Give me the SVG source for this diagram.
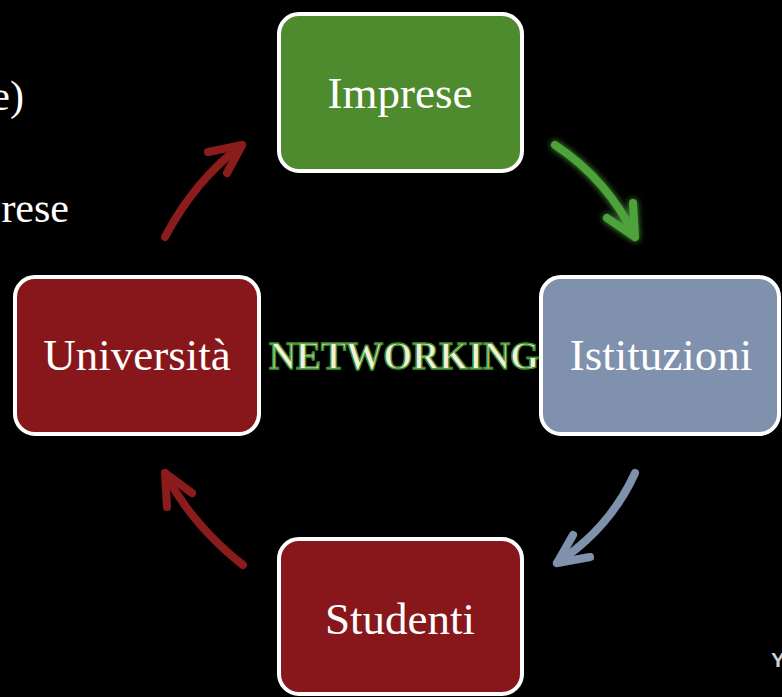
<svg xmlns="http://www.w3.org/2000/svg" width="782" height="697" viewBox="0 0 782 697">
<defs>
<style>
.box{stroke:#ffffff;stroke-width:4}
.lbl{font-family:"Liberation Serif","Times New Roman",serif;font-size:45px;fill:#ffffff;text-anchor:middle}
.side{font-family:"Liberation Serif","Times New Roman",serif;font-size:42px;fill:#ffffff;text-anchor:end}
.arr{fill:none;stroke-width:8;stroke-linecap:round;stroke-linejoin:round}
</style>
<filter id="glow" x="-30%" y="-30%" width="160%" height="160%">
<feGaussianBlur in="SourceAlpha" stdDeviation="3" result="b"/>
<feOffset dx="2" dy="3" in="b" result="o"/>
<feFlood flood-color="#000" flood-opacity="0.6"/>
<feComposite in2="o" operator="in" result="s"/>
<feMerge><feMergeNode in="s"/><feMergeNode in="SourceGraphic"/></feMerge>
</filter>
<filter id="gglow" x="-30%" y="-30%" width="160%" height="160%">
<feGaussianBlur in="SourceGraphic" stdDeviation="3" result="b"/>
<feMerge><feMergeNode in="b"/><feMergeNode in="SourceGraphic"/></feMerge>
</filter>
</defs>
<rect width="782" height="697" fill="#000000"/>
<text class="side" x="24" y="110">e)</text>
<text class="side" x="69" y="222">rese</text>
<g id="connectors">
<g filter="url(#gglow)" stroke="#4ea23a" class="arr">
<path d="M555,145 Q608,180 635,237"/>
<path d="M607,218 L635,237 L633,203"/>
</g>
<g stroke="#7f91ac" class="arr" filter="url(#glow)">
<path d="M635,473 Q610,528 557,563"/>
<path d="M573,535 L557,563 L590,557"/>
</g>
<g stroke="#8a1a1c" class="arr" filter="url(#glow)">
<path d="M243,565 Q192,525 165,473"/>
<path d="M167,507 L165,473 L192,493"/>
</g>
<g stroke="#8a1a1c" class="arr" filter="url(#glow)">
<path d="M165,237 Q195,180 242,145"/>
<path d="M208,152 L242,145 L227,173"/>
</g>
</g>
<g id="imprese">
<rect class="box" x="279" y="14" width="243" height="157" rx="20" fill="#4e8a2e"/>
<text class="lbl" x="400" y="108">Imprese</text>
</g>
<g id="istituzioni">
<rect class="box" x="541" y="277" width="238" height="157" rx="20" fill="#7f91ac"/>
<text class="lbl" x="661" y="370">Istituzioni</text>
</g>
<g id="universita">
<rect class="box" x="15" y="277" width="244" height="157" rx="20" fill="#87171a"/>
<text class="lbl" x="137" y="370">Università</text>
</g>
<g id="studenti">
<rect class="box" x="279" y="539" width="243" height="155" rx="20" fill="#87171a"/>
<text class="lbl" x="400" y="634">Studenti</text>
</g>
<g id="networking">
<text x="269" y="369" font-family="Liberation Serif,serif" font-weight="bold" font-size="40" textLength="270" lengthAdjust="spacingAndGlyphs" fill="#f3f0dc" stroke="#3f8f2c" stroke-width="1.5">NETWORKING</text>
</g>
<text x="771" y="667" font-family="Liberation Sans,Arial,sans-serif" font-weight="bold" font-size="21" fill="#d0d0d0">Y</text>
</svg>
